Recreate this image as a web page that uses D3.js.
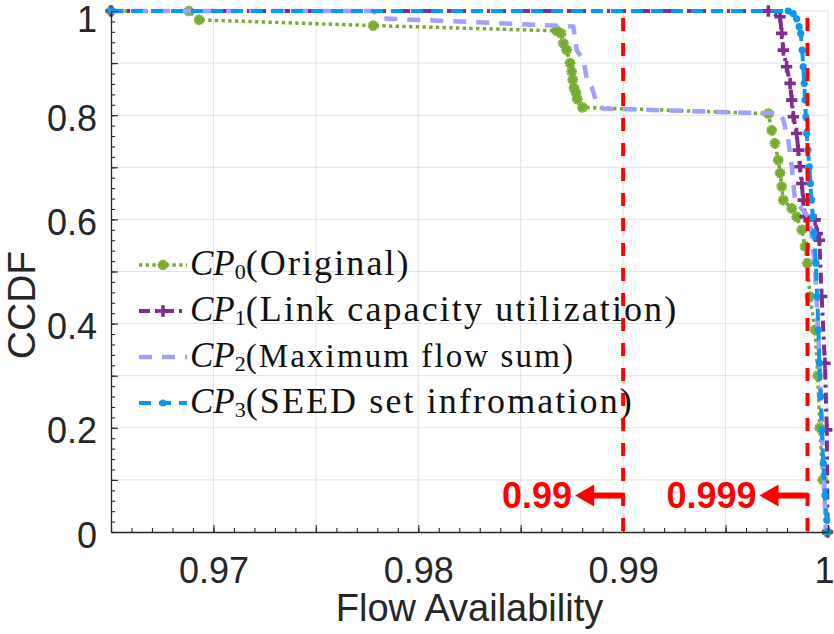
<!DOCTYPE html>
<html>
<head>
<meta charset="utf-8">
<script src="https://cdn.jsdelivr.net/npm/d3@7"></script>
<style>
  body { margin: 0; background: #fff; }
</style>
</head>
<body>
<div id="chart"></div>
<script>
// values (flow availability vs CCDF)

const cp0X = [0.965, 0.9688, 0.9693, 0.9778, 0.98675, 0.98697, 0.98708, 0.98724, 0.98741, 0.98749, 0.98754, 0.9876, 0.9877, 0.98776, 0.98801,
  0.99709, 0.99725, 0.99741, 0.99757, 0.99766, 0.99774, 0.99782, 0.99823, 0.99847, 0.99872, 0.99888, 0.99899, 0.99912, 0.99937, 0.9995, 0.9996, 0.99975, 0.99995];
const cp0Y = [1.0, 1.0, 0.983, 0.972, 0.962, 0.957, 0.938, 0.925, 0.900, 0.884, 0.868, 0.852, 0.843, 0.831, 0.815,
  0.803, 0.771, 0.746, 0.714, 0.689, 0.663, 0.637, 0.621, 0.605, 0.580, 0.548, 0.516, 0.452, 0.388, 0.3, 0.2, 0.1, 0];

const cp1X = [0.965, 0.99709, 0.99766, 0.99774, 0.99782, 0.99798, 0.99815, 0.99823, 0.99831, 0.99847, 0.99855, 0.99863, 0.99872, 0.99879, 0.99888,
  0.99937, 0.99948, 0.99958, 0.99969, 0.99985, 0.99994, 0.99998];
const cp1Y = [1.0, 1.0, 0.989, 0.957, 0.925, 0.893, 0.861, 0.829, 0.797, 0.765, 0.733, 0.701, 0.669, 0.637, 0.605,
  0.599, 0.573, 0.560, 0.452, 0.324, 0.196, 0];

const cp2X = [0.965, 0.97779, 0.97821, 0.98724, 0.98757, 0.98773, 0.98806, 0.98822, 0.98846, 0.98871, 0.98902, 0.9957,
  0.99766, 0.99782, 0.99806, 0.99823, 0.99839, 0.99864, 0.99904, 0.9992, 0.99937, 0.99956, 0.99971, 0.9999];
const cp2Y = [1.0, 1.0, 0.986, 0.971, 0.970, 0.925, 0.906, 0.871, 0.855, 0.823, 0.813, 0.805,
  0.8036, 0.791, 0.752, 0.701, 0.637, 0.624, 0.605, 0.573, 0.503, 0.349, 0.196, 0];

const cp3X = [0.965, 0.99806, 0.9983, 0.99847, 0.99859, 0.99867, 0.99874, 0.99879, 0.99884, 0.99888, 0.99892, 0.99896, 0.99902, 0.99909,
  0.99914, 0.9992, 0.99926, 0.99932, 0.99941, 0.99947, 0.99953, 0.99958, 0.99964, 0.9997, 0.99977, 0.99985, 0.99994, 0.99996];
const cp3Y = [1.0, 1.0, 0.995, 0.985, 0.97, 0.957, 0.925, 0.893, 0.861, 0.829, 0.797, 0.765, 0.733, 0.701,
  0.669, 0.637, 0.605, 0.573, 0.516, 0.452, 0.388, 0.324, 0.26, 0.196, 0.132, 0.07, 0.023, 0];

const seriesNames = ["(Original)", "(Link capacity utilization)", "(Maximum flow sum)", "(SEED set infromation)"];
const xTickLabels = [0.97, 0.98, 0.99, 1];
const yTickLabels = [0, 0.2, 0.4, 0.6, 0.8, 1];
const thresholds = [0.99, 0.999];
const thresholdLabels = ["0.99", "0.999"];

// sizes and styles

const W = 834, H = 634;
const sans = "'Liberation Sans', Arial, sans-serif";
const serif = "'Liberation Serif', 'Times New Roman', serif";
const colors = ["#77ac30", "#7e2f8e", "#a0a0ff", "#0a98f0"];
const dashes = ["3.3,3.4", "11,5,3,5", "13,10", "12,8"];
const widths = [3.5, 4, 4.5, 4];
const markers = ["star", "plus", null, "dot"];

const svg = d3.select("#chart")
  .append("svg")
    .attr("width", W)
    .attr("height", H);

const x = d3.scaleLinear().domain([0.965, 1]).range([111, 828]);
const y = d3.scaleLinear().domain([0, 1]).range([532, 11]);

// grid

const xGrid = d3.range(1, 8).map(i => +(0.965 + i * 0.005).toFixed(3));
const yGrid = d3.range(1, 11).map(i => i / 10);

svg.append("g").selectAll("line").data(xGrid).join("line")
  .attr("x1", d => x(d)).attr("x2", d => x(d))
  .attr("y1", y(0)).attr("y2", y(1))
  .attr("stroke", "#e3e3e3").attr("stroke-width", 1);
svg.append("g").selectAll("line").data(yGrid).join("line")
  .attr("x1", x(0.965)).attr("x2", x(1))
  .attr("y1", d => y(d)).attr("y2", d => y(d))
  .attr("stroke", "#e3e3e3").attr("stroke-width", 1);

// series

const allX = [cp0X, cp1X, cp2X, cp3X];
const allY = [cp0Y, cp1Y, cp2Y, cp3Y];
const line = d3.line().x(d => x(d[0])).y(d => y(d[1]));

function drawMarker(g, kind, px, py, color) {
  if (kind === "star") {
    g.append("path").attr("d", d3.symbol(d3.symbolAsterisk, 80)())
      .attr("transform", `translate(${px},${py})`)
      .attr("fill", "none").attr("stroke", color).attr("stroke-width", 2);
    g.append("path").attr("d", d3.symbol(d3.symbolAsterisk, 80)())
      .attr("transform", `translate(${px},${py}) rotate(90)`)
      .attr("fill", "none").attr("stroke", color).attr("stroke-width", 2);
  } else if (kind === "plus") {
    g.append("path").attr("d", d3.symbol(d3.symbolPlus, 44)())
      .attr("transform", `translate(${px},${py})`)
      .attr("fill", "none").attr("stroke", color).attr("stroke-width", 3.6);
  } else if (kind === "dot") {
    g.append("circle").attr("cx", px).attr("cy", py).attr("r", 3.6).attr("fill", color);
  }
}

allX.forEach(function(xs, i) {
  const pts = d3.zip(xs, allY[i]);
  const g = svg.append("g");
  g.append("path")
    .datum(pts)
    .attr("d", line)
    .attr("fill", "none")
    .attr("stroke", colors[i])
    .attr("stroke-width", widths[i])
    .attr("stroke-dasharray", dashes[i]);
  if (markers[i]) {
    pts.forEach(p => drawMarker(g, markers[i], x(p[0]), y(p[1]), colors[i]));
  }
});

// axes (ticks inside, minor + major)

const axisColor = "#262626";
const xMinor = d3.range(0, 36).map(i => +(0.965 + i * 0.001).toFixed(3));
const xMajor = d3.range(0, 8).map(i => +(0.965 + i * 0.005).toFixed(3));
const yMinor = d3.range(0, 51).map(i => i / 50);
const yMajor = d3.range(0, 11).map(i => i / 10);

const gx = svg.append("g").attr("transform", `translate(0,${y(0)})`);
gx.append("g").call(d3.axisBottom(x).tickValues(xMinor).tickSize(-4).tickSizeOuter(0).tickFormat(""));
gx.append("g").call(d3.axisBottom(x).tickValues(xMajor).tickSize(-7).tickSizeOuter(0).tickFormat(""))
  .select(".domain").remove();
gx.append("g").call(d3.axisBottom(x).tickValues(xTickLabels).tickSize(0).tickPadding(25)
    .tickFormat(d => d === 1 ? "1" : d.toFixed(2)))
  .call(g => g.select(".domain").remove())
  .selectAll("text")
    .attr("font-size", 36)
    .attr("dx", d => d === 1 ? -4 : 0)
    .style("font-family", sans);

const gy = svg.append("g").attr("transform", `translate(${x(0.965)},0)`);
gy.append("g").call(d3.axisLeft(y).tickValues(yMinor).tickSize(-4).tickSizeOuter(0).tickFormat(""));
gy.append("g").call(d3.axisLeft(y).tickValues(yMajor).tickSize(-7).tickSizeOuter(0).tickFormat(""))
  .select(".domain").remove();
gy.append("g").call(d3.axisLeft(y).tickValues(yTickLabels).tickSize(0).tickPadding(14)
    .tickFormat(d => d === 0 || d === 1 ? String(d) : d.toFixed(1)))
  .call(g => g.select(".domain").remove())
  .selectAll("text")
    .attr("font-size", 36)
    .attr("dy", d => d === 1 ? "0.58em" : "0.42em")
    .style("font-family", sans);

svg.selectAll(".domain").attr("stroke", axisColor).attr("stroke-width", 1.3);
svg.selectAll(".tick line").attr("stroke", axisColor).attr("stroke-width", 1.1);
svg.selectAll(".tick text").attr("fill", axisColor);

// axis titles

svg.append("text")
  .attr("x", (x(0.965) + x(1)) / 2)
  .attr("y", 621)
  .attr("text-anchor", "middle")
  .attr("font-size", 38)
  .attr("fill", axisColor)
  .style("font-family", sans)
  .text("Flow Availability");

svg.append("text")
  .attr("transform", "translate(35,305) rotate(-90)")
  .attr("text-anchor", "middle")
  .attr("font-size", 39)
  .attr("fill", axisColor)
  .style("font-family", sans)
  .text("CCDF");

// legend

const rowsY = [265, 311, 357, 403];
const legend = svg.append("g");
seriesNames.forEach(function(name, i) {
  const ry = rowsY[i];
  legend.append("line")
    .attr("x1", 139).attr("x2", 187).attr("y1", ry).attr("y2", ry)
    .attr("stroke", colors[i]).attr("stroke-width", widths[i])
    .attr("stroke-dasharray", dashes[i]);
  if (markers[i]) drawMarker(legend, markers[i], 163, ry, colors[i]);
  const t = legend.append("text")
    .attr("x", 190).attr("y", ry + 10)
    .style("font-family", serif)
    .attr("fill", "#111");
  t.append("tspan").style("font-style", "italic").attr("font-size", 35).text("CP");
  t.append("tspan").attr("font-size", 22).attr("dy", 4).text(i);
  t.append("tspan").attr("dy", -4)
    .attr("font-size", i === 2 ? 33 : 36)
    .attr("letter-spacing", 2.1)
    .text(name);
});

// thresholds: red dashed lines with arrows

const red = "#ff0000";
thresholds.forEach(function(t, i) {
  const lx = x(t);
  svg.append("line")
    .attr("x1", lx).attr("x2", lx).attr("y1", y(1)).attr("y2", y(0))
    .attr("stroke", red).attr("stroke-width", 4)
    .attr("stroke-dasharray", "13,12").attr("stroke-dashoffset", 18);

  const ay = y(0.07);
  const tip = lx - 48;
  svg.append("rect")
    .attr("x", lx - 30).attr("y", ay - 3).attr("width", 30).attr("height", 6)
    .attr("fill", red);
  svg.append("path")
    .attr("d", `M${tip},${ay} L${tip + 19},${ay - 11} L${tip + 19},${ay + 11} Z`)
    .attr("fill", red);
  svg.append("text")
    .attr("x", tip - 3).attr("y", ay + 12)
    .attr("text-anchor", "end")
    .attr("font-size", 36).attr("font-weight", "bold")
    .attr("fill", red)
    .style("font-family", sans)
    .text(thresholdLabels[i]);
});
</script>
</body>
</html>
